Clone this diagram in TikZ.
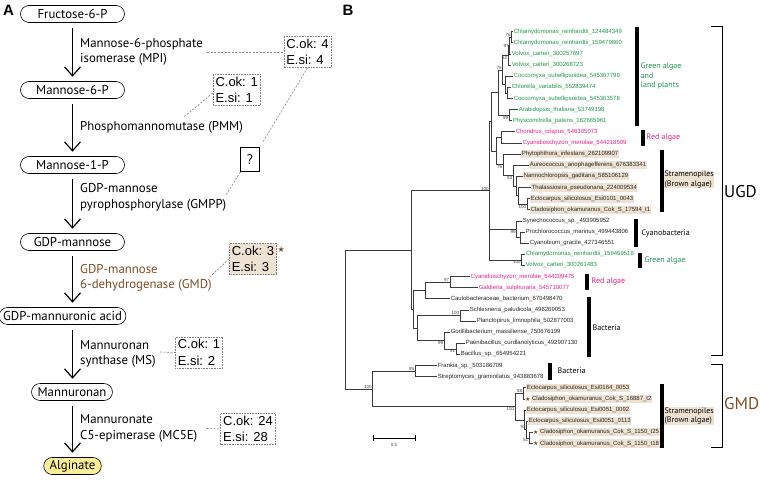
\documentclass[tikz,border=0pt]{standalone}
\usepackage{fontspec}
\usepackage{tikz}
\usepackage{xcolor}
\usetikzlibrary{arrows.meta,positioning}
\setmainfont{PT Sans}
\newfontfamily\arialfont{Liberation Sans}
\newfontfamily\symfont{DejaVu Sans}

\definecolor{greenalg}{RGB}{30,150,75}
\definecolor{redalg}{RGB}{228,30,135}
\definecolor{tanbg}{RGB}{238,226,210}
\definecolor{gmdbrown}{RGB}{125,78,40}
\definecolor{algyellow}{RGB}{252,238,150}
\definecolor{treegray}{RGB}{60,60,60}

\begin{document}
\begin{tikzpicture}[x=1pt, y=-1pt,
       metab/.style={rectangle, rounded corners=8.5pt, draw, line width=0.6pt,
      inner xsep=6pt, inner ysep=0pt, minimum height=17pt, font=\fontsize{12.8}{15.5}\selectfont},
       widemetab/.style={metab, minimum width=104pt},
       reaction/.style={line width=1.2pt, shorten <=5pt, shorten >=4.5pt,
      -{Straight Barb[length=9pt,width=16pt]}},
       enzyme/.style={anchor=west, align=left, inner sep=0pt, font=\fontsize{12.8}{15.5}\selectfont},
       countbox/.style={draw=gray, densely dotted, line width=0.6pt, align=left,
      inner sep=2.5pt, font=\arialfont\fontsize{13}{16.5}\selectfont},
       linkline/.style={gray, line width=0.6pt, dash pattern=on 2pt off 1.5pt},
       leaf/.style={anchor=west, inner sep=0.6pt, font=\arialfont\fontsize{6}{6}\selectfont, text=black!85},
       greenleaf/.style={leaf, text=greenalg},
       redleaf/.style={leaf, text=redalg},
       stramleaf/.style={leaf, fill=tanbg, inner ysep=1.3pt},
       starmark/.style={anchor=west, inner sep=0.3pt, text=gmdbrown, font=\symfont\fontsize{6}{6}\selectfont},
       branch/.style={draw=treegray, line width=0.8pt, to path={|- (\tikztotarget)}},
       bootval/.style={inner sep=0.6pt, font=\arialfont\fontsize{4.5}{5}\selectfont, text=black!75},
       cladebar/.style={line width=4pt},
       cladename/.style={anchor=west, align=left, inner sep=0.5pt, font=\fontsize{8}{9.3}\selectfont},
       bracket/.style={line width=1pt}]

	\useasboundingbox (0,0) rectangle (760,481);

	% panel A: pathway
	\node [font=\arialfont\bfseries\fontsize{15}{15}\selectfont] (panA) at (8.5,10) {A};
	\node [widemetab] (f6p)   at (72.5,14)  {Fructose-6-P};
        \node [widemetab] (m6p)   at (72.5,90)  {Mannose-6-P};
        \node [widemetab] (m1p)   at (72.5,165) {Mannose-1-P};
        \node [widemetab] (gdpm)  at (72.5,242) {GDP-mannose};
        \node [metab, inner xsep=4pt] (gdpma) at (62.5,316) {GDP-mannuronic acid};
        \node [metab] (mnn)   at (72,392)   {Mannuronan};
        \node [metab, fill=algyellow] (alg) at (72.5,466) {Alginate};

        \path [reaction] (f6p) edge (m6p);
        \path [reaction] (m6p) edge (m1p);
        \path [reaction] (m1p) edge (gdpm);
        \path [reaction] (gdpm.south) edge (gdpma.north -| gdpm.south);
        \path [reaction] (gdpma.south -| alg.north) edge (mnn.north -| alg.north);
        \path [reaction] (mnn.south -| alg.north) edge (alg.north);

	\node [enzyme] (mpi)  at (80,52)    {Mannose-6-phosphate\\isomerase (MPI)};
        \node [enzyme] (pmm)  at (80,127)   {Phosphomannomutase (PMM)};
        \node [enzyme] (gmpp) at (80,197.5) {GDP-mannose\\pyrophosphorylase (GMPP)};
        \node [enzyme, text=gmdbrown] (gmdenz) at (80,278) {GDP-mannose\\6-dehydrogenase (GMD)};
        \node [enzyme] (ms)   at (80,354)   {Mannuronan\\synthase (MS)};
        \node [enzyme] (mc5e) at (80,428.5) {Mannuronate\\C5-epimerase (MC5E)};

	\node [countbox] (mpicnt)  at (307.5,52)  {C.ok: 4\\E.si: 4};
        \node [countbox] (pmmcnt)  at (236.7,90)  {C.ok: 1\\E.si: 1};
        \node [draw, line width=0.6pt, minimum width=18.6pt, minimum height=24pt, inner sep=0pt,
      font=\fontsize{14}{14}\selectfont] (qbox) at (250,159.7) {?};
        \node [countbox, fill=tanbg] (gmdcnt) at (253,259) {C.ok: 3\\E.si: 3};
        \node [starmark, font=\symfont\fontsize{8}{8}\selectfont] (gmdstar) at (277,249.5) {★};
        \node [countbox] (mscnt)   at (199,352.5) {C.ok: 1\\E.si: 2};
        \node [countbox] (mc5ecnt) at (248,429)   {C.ok: 24\\E.si: 28};

	\coordinate (mpiend)  at (207,52);
        \coordinate (pmmend)  at (184.3,116.7);
        \coordinate (gmppend) at (226,195);
        \coordinate (gmdend)  at (210,276.7);
        \coordinate (msend)   at (160,352);
        \coordinate (mc5eend) at (206.7,428.5);

        \draw [linkline] (mpiend) -- (mpicnt.west);
        \draw [linkline] ([yshift=-3pt]pmmcnt.west) -- (pmmend);
        \draw [linkline, shorten >=6pt] (mpicnt.south) -- (qbox.north east);
        \draw [linkline] (qbox.south west) -- (gmppend);
        \draw [linkline] (gmdcnt.west) -- (gmdend);
        \draw [linkline] (msend) -- (mscnt.west);
        \draw [linkline] (mc5eend) -- (mc5ecnt.west);

	% panel B: tree
	\node [font=\arialfont\bfseries\fontsize{15}{15}\selectfont] (panB) at (348,10) {B};

	\node [greenleaf] (l1)  at (513,31.7)  {Chlamydomonas\_reinhardtii\_124484349};
        \node [greenleaf] (l2)  at (513,42.8)  {Chlamydomonas\_reinhardtii\_159479860};
        \node [greenleaf] (l3)  at (511,54.0)  {Volvox\_carteri\_300257697};
        \node [greenleaf] (l4)  at (511,65.1)  {Volvox\_carteri\_300268723};
        \node [greenleaf] (l5)  at (513,76.2)  {Coccomyxa\_subellipsoidea\_545367799};
        \node [greenleaf] (l6)  at (511,87.4)  {Chlorella\_variabilis\_552839474};
        \node [greenleaf] (l7)  at (513,98.5)  {Coccomyxa\_subellipsoidea\_545363578};
        \node [greenleaf] (l8)  at (518,109.6) {Arabidopsis\_thaliana\_53749198};
        \node [greenleaf] (l9)  at (512,120.7) {Physcomitrella\_patens\_162665961};
        \node [redleaf]   (l10) at (515,131.9) {Chondrus\_crispus\_546305073};
        \node [redleaf]   (l11) at (522,143.0) {Cyanidioschyzon\_merolae\_544218509};
        \node [stramleaf] (l12) at (521,154.1) {Phytophthora\_infestans\_262109907};
        \node [stramleaf] (l13) at (529,165.3) {Aureococcus\_anophagefferens\_676383341};
        \node [stramleaf] (l14) at (523,176.4) {Nannochloropsis\_gaditana\_585106129};
        \node [stramleaf] (l15) at (531,187.5) {Thalassiosira\_pseudonana\_224009534};
        \node [stramleaf] (l16) at (530,198.6) {Ectocarpus\_siliculosus\_Esi0101\_0043};
        \node [stramleaf] (l17) at (530,209.8) {Cladosiphon\_okamuranus\_Cok\_S\_17594\_t1};
        \node [leaf]      (l18) at (522,220.9) {Synechococcus\_sp.\_493905952};
        \node [leaf]      (l19) at (525,232.0) {Prochlorococcus\_marinus\_499443806};
        \node [leaf]      (l20) at (529,243.2) {Cyanobium\_gracile\_427346551};
        \node [greenleaf] (l21) at (525,254.3) {Chlamydomonas\_reinhardtii\_159469518};
        \node [greenleaf] (l22) at (525,265.4) {Volvox\_carteri\_300261483};
        \node [redleaf]   (l23) at (470,276.5) {Cyanidioschyzon\_merolae\_544209475};
        \node [redleaf]   (l24) at (478,287.7) {Galdieria\_sulphuraria\_545710077};
        \node [leaf]      (l25) at (450,298.8) {Caulobacteraceae\_bacterium\_670498470};
        \node [leaf]      (l26) at (469,309.9) {Schlesneria\_paludicola\_498269053};
        \node [leaf]      (l27) at (476,321.1) {Planctopirus\_limnophila\_502877003};
        \node [leaf]      (l28) at (450,332.2) {Gorillibacterium\_massiliense\_750676199};
        \node [leaf]      (l29) at (465,343.3) {Paenibacillus\_curdlanolyticus\_492907130};
        \node [leaf]      (l30) at (460,354.4) {Bacillus\_sp.\_654954221};
        \node [leaf]      (l31) at (437,365.6) {Frankia\_sp.\_503186709};
        \node [leaf]      (l32) at (437,376.7) {Streptomyces\_graminilatus\_943883678};
        \node [stramleaf] (l33) at (526,387.8) {Ectocarpus\_siliculosus\_Esi0164\_0053};
        \node [starmark]  (s34) at (524.5,399.0) {★};
        \node [stramleaf, right=0.4pt of s34] (l34) {Cladosiphon\_okamuranus\_Cok\_S\_16887\_t2};
        \node [stramleaf] (l35) at (526,410.1) {Ectocarpus\_siliculosus\_Esi0051\_0092};
        \node [stramleaf] (l36) at (528,421.2) {Ectocarpus\_siliculosus\_Esi0051\_0113};
        \node [starmark]  (s37) at (532.5,432.4) {★};
        \node [stramleaf, right=0.4pt of s37] (l37) {Cladosiphon\_okamuranus\_Cok\_S\_1150\_t25};
        \node [starmark]  (s38) at (532.5,443.5) {★};
        \node [stramleaf, right=0.4pt of s38] (l38) {Cladosiphon\_okamuranus\_Cok\_S\_1150\_t18};

	\coordinate (chlam)     at (511.5,37.3);
        \coordinate (volvA)     at (509.5,45.6);
        \coordinate (volvB)     at (508,55.4);
        \coordinate (chlor)     at (507.5,93.0);
        \coordinate (cocc)      at (505,84.6);
        \coordinate (chloro)    at (502.5,70.0);
        \coordinate (land)      at (509,115.2);
        \coordinate (viridi)    at (498,92.6);
        \coordinate (redA)      at (501.5,137.5);
        \coordinate (brownA)    at (527,204.2);
        \coordinate (thal)      at (518,195.9);
        \coordinate (nanno)     at (516.5,186.2);
        \coordinate (aureo)     at (513,175.7);
        \coordinate (phyto)     at (503,164.9);
        \coordinate (rednstram) at (496,151.2);
        \coordinate (euk)       at (491,121.9);
        \coordinate (prochl)    at (520,237.6);
        \coordinate (cyano)     at (516.5,229.3);
        \coordinate (greenB)    at (521.5,259.9);
        \coordinate (ugdcore)   at (489.5,190.9);
        \coordinate (redB)      at (450,282.1);
        \coordinate (redcaulo)  at (425.5,290.5);
        \coordinate (planct)    at (460,315.5);
        \coordinate (bacil)     at (456,348.9);
        \coordinate (firmic)    at (444,340.6);
        \coordinate (bactK)     at (417,328.0);
        \coordinate (lowugd)    at (413.5,309.3);
        \coordinate (ugd)       at (411,250.1);
        \coordinate (actino)    at (415,371.2);
        \coordinate (gmdA)      at (523,393.4);
        \coordinate (gmdD)      at (529,438.0);
        \coordinate (gmdC)      at (526.5,429.6);
        \coordinate (gmdB)      at (524.5,419.9);
        \coordinate (gmdall)    at (515,406.6);
        \coordinate (gmdclade)  at (372.5,388.9);
        \coordinate (root)      at (345,319.5);

        \path [branch] (root) edge (ugd) edge (gmdclade);
        \path [branch] (ugd) edge (ugdcore) edge (lowugd);
        \path [branch] (ugdcore) edge (euk) edge (cyano) edge (greenB);
        \path [branch] (euk) edge (viridi) edge (rednstram);
        \path [branch] (viridi) edge (chloro) edge (land);
        \path [branch] (chloro) edge (volvB) edge (cocc);
        \path [branch] (volvB) edge (volvA) edge (l4);
        \path [branch] (volvA) edge (chlam) edge (l3);
        \path [branch] (chlam) edge (l1) edge (l2);
        \path [branch] (cocc) edge (l5) edge (chlor);
        \path [branch] (chlor) edge (l6) edge (l7);
        \path [branch] (land) edge (l8) edge (l9);
        \path [branch] (rednstram) edge (redA) edge (phyto);
        \path [branch] (redA) edge (l10) edge (l11);
        \path [branch] (phyto) edge (l12) edge (aureo);
        \path [branch] (aureo) edge (l13) edge (nanno);
        \path [branch] (nanno) edge (l14) edge (thal);
        \path [branch] (thal) edge (l15) edge (brownA);
        \path [branch] (brownA) edge (l16) edge (l17);
        \path [branch] (cyano) edge (l18) edge (prochl);
        \path [branch] (prochl) edge (l19) edge (l20);
        \path [branch] (greenB) edge (l21) edge (l22);
        \path [branch] (lowugd) edge (redcaulo) edge (bactK);
        \path [branch] (redcaulo) edge (redB) edge (l25);
        \path [branch] (redB) edge (l23) edge (l24);
        \path [branch] (bactK) edge (planct) edge (firmic);
        \path [branch] (planct) edge (l26) edge (l27);
        \path [branch] (firmic) edge (l28) edge (bacil);
        \path [branch] (bacil) edge (l29) edge (l30);
        \path [branch] (gmdclade) edge (actino) edge (gmdall);
        \path [branch] (actino) edge (l31) edge (l32);
        \path [branch] (gmdall) edge (gmdA) edge (gmdB);
        \path [branch] (gmdA) edge (l33) edge (s34);
        \path [branch] (gmdB) edge (l35) edge (gmdC);
        \path [branch] (gmdC) edge (l36) edge (gmdD);
        \path [branch] (gmdD) edge (s37) edge (s38);

	% bootstrap values
	\node [bootval, above left] (b1)  at (chlam)    {76};
        \node [bootval, left]       (b2)  at (volvA)    {97};
        \node [bootval, below left] (b3)  at (volvB)    {52};
        \node [bootval, above left] (b4)  at (chloro)   {75};
        \node [bootval, below left] (b5)  at (land)     {99};
        \node [bootval, below left] (b6)  at (phyto)    {76};
        \node [bootval, below left] (b7)  at (aureo)    {93};
        \node [bootval, below left] (b8)  at (brownA)   {100};
        \node [bootval, above left] (b9)  at (ugdcore)  {100};
        \node [bootval, below left] (b10) at (cyano)    {99};
        \node [bootval, below left] (b11) at (greenB)   {100};
        \node [bootval, above left] (b12) at (redB)     {97};
        \node [bootval, above left] (b13) at (planct)   {100};
        \node [bootval, below left] (b14) at (firmic)   {99};
        \node [bootval, below left] (b15) at (bacil)    {91};
        \node [bootval, above left] (b16) at (actino)   {95};
        \node [bootval, above left] (b17) at (gmdA)     {88};
        \node [bootval, below left] (b18) at (gmdall)   {100};
        \node [bootval, above left] (b19) at (gmdC)     {93};
        \node [bootval, below left] (b20) at (gmdD)     {51};
        \node [bootval, above left] (b21) at (gmdclade) {100};

	% scale bar
	\draw [line width=0.8pt] (373,438) -- (415,438);
        \draw [line width=0.8pt] (373,435) -- (373,441);
        \draw [line width=0.8pt] (415,435) -- (415,441);
        \node [bootval] (scalelab) at (394,445) {0.5};

	% clade bars and names
	\draw [cladebar] (637,27) -- (637,126);
        \draw [cladebar] (643,130) -- (643,146);
        \draw [cladebar] (662,150) -- (662,212);
        \draw [cladebar] (636,219) -- (636,247);
        \draw [cladebar] (640,253) -- (640,268);
        \draw [cladebar] (587,274) -- (587,290);
        \draw [cladebar] (588.5,297) -- (588.5,357);
        \draw [cladebar] (550,363) -- (550,380);
        \draw [cladebar] (661.5,384) -- (661.5,448);

	\node [cladename, text=greenalg] (cgreen)  at (640,76)    {Green algae\\and\\land plants};
        \node [cladename, text=redalg]   (cred)    at (646,137.5) {Red algae};
        \node [cladename, fill=tanbg]    (cstram)  at (664,179.5) {Stramenopiles\\(Brown algae)};
        \node [cladename]                (ccyano)  at (641,233)   {Cyanobacteria};
        \node [cladename, text=greenalg] (cgreenB) at (644,260.5) {Green algae};
        \node [cladename, text=redalg]   (credB)   at (591,282)   {Red algae};
        \node [cladename]                (cbact)   at (592,328)   {Bacteria};
        \node [cladename]                (cbactB)  at (557,371)   {Bacteria};
        \node [cladename, fill=tanbg]    (cstramB) at (664,416)   {Stramenopiles\\(Brown algae)};

	\draw [bracket] (711,27) -- (722,27) -- (722,355) -- (711,355);
        \draw [bracket] (711,364) -- (722,364) -- (722,447) -- (711,447);
        \node [anchor=west, inner sep=0pt, font=\fontsize{17}{17}\selectfont] (ugdlab) at (724,192) {UGD};
        \node [anchor=west, inner sep=0pt, text=gmdbrown, font=\fontsize{17}{17}\selectfont] (gmdlab) at (724,404) {GMD};
\end{tikzpicture}
\end{document}
